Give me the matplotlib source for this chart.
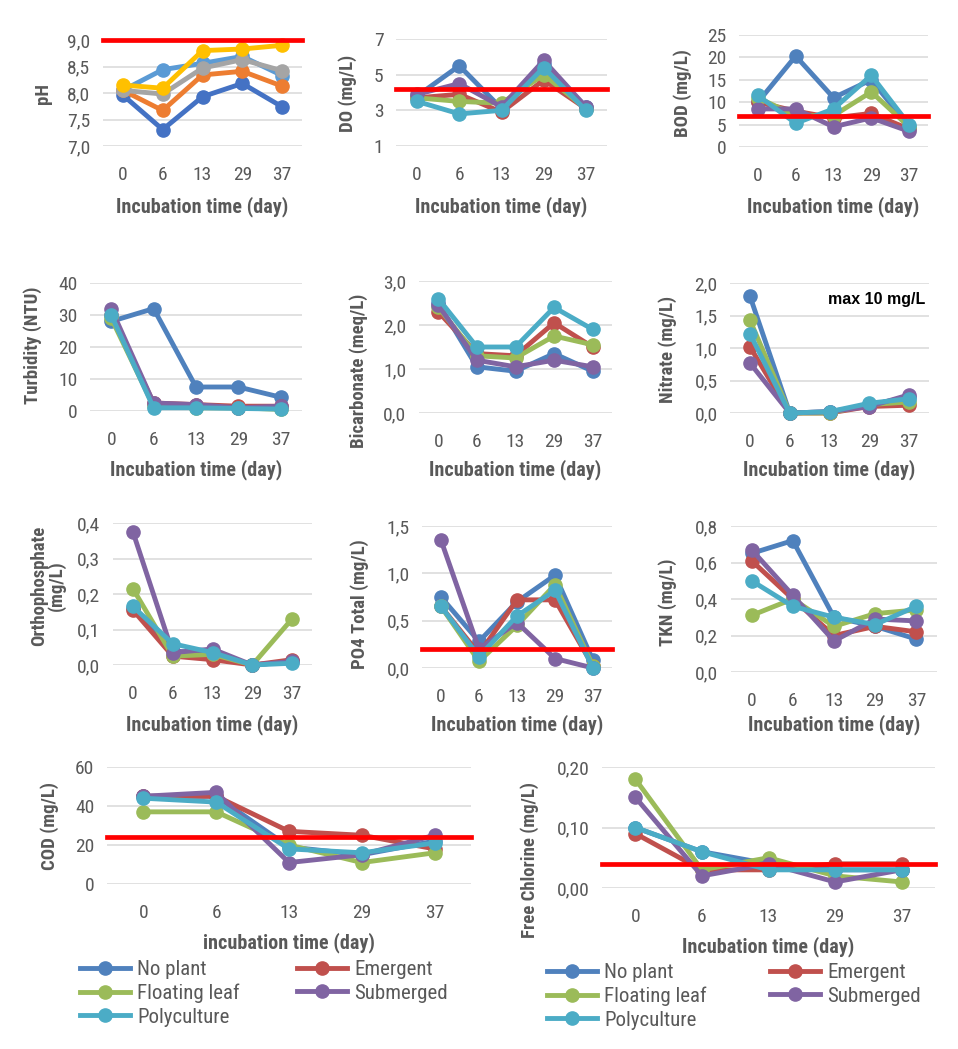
import matplotlib
matplotlib.use('Agg')
import matplotlib.pyplot as plt
from matplotlib import font_manager as fm
from matplotlib.ticker import FuncFormatter

# look for a narrow sans font (the original uses Arial Narrow)
installed = {(f.name, f.stretch) for f in fm.fontManager.ttflist}
names = {n for n, s in installed}
narrow = None
for pref in ['Liberation Sans Narrow', 'Arial Narrow', 'Roboto Condensed',
             'Open Sans Condensed', 'Noto Sans Condensed', 'DejaVu Sans Condensed']:
    if pref in names:
        narrow = (pref, 'normal')
        break
if narrow is None:
    for fam in ['Noto Sans', 'Open Sans', 'Roboto', 'DejaVu Sans']:
        for st in ['condensed', 'semi-condensed']:
            if (fam, st) in installed:
                narrow = (fam, st)
                break
        if narrow:
            break

if narrow:
    plt.rcParams['font.family'] = [narrow[0], 'DejaVu Sans']
    plt.rcParams['font.stretch'] = narrow[1]
    TICK_FS, YLAB_FS, XLAB_FS, LEG_FS = 14, 13.5, 14.5, 15
else:
    plt.rcParams['font.family'] = ['Liberation Sans', 'DejaVu Sans']
    TICK_FS, YLAB_FS, XLAB_FS, LEG_FS = 12.5, 12, 12.5, 13

W, H = 958, 1049

days = ['0', '6', '13', '29', '37']
groups = ['No plant', 'Emergent', 'Floating leaf', 'Submerged', 'Polyculture']
group_colors = ['#4F81BD', '#C0504D', '#9BBB59', '#8064A2', '#4BACC6']

# pH panel: five unnamed series, drawn in this order
ph_colors = ['#5B9BD5', '#4472C4', '#ED7D31', '#A5A5A5', '#FFC000']
ph_values = [
    [8.05, 8.44, 8.56, 8.69, 8.33],
    [7.96, 7.31, 7.93, 8.18, 7.74],
    [8.05, 7.67, 8.34, 8.41, 8.13],
    [8.05, 7.98, 8.47, 8.63, 8.42],
    [8.15, 8.09, 8.80, 8.83, 8.90],
]

# values per group: No plant, Emergent, Floating leaf, Submerged, Polyculture
do_values = [
    [3.8, 5.5, 3.1, 5.6, 3.2],
    [3.7, 3.9, 2.9, 4.7, 3.1],
    [3.7, 3.5, 3.4, 5.0, 3.1],
    [3.9, 4.5, 3.2, 5.8, 3.2],
    [3.5, 2.8, 3.0, 5.4, 3.0],
]
bod_values = [
    [10.0, 20.3, 11.0, 15.0, 4.5],
    [10.0, 8.0, 6.5, 7.5, 4.0],
    [11.0, 7.0, 7.0, 12.3, 4.5],
    [8.5, 8.5, 4.5, 6.5, 3.5],
    [11.5, 5.3, 8.5, 16.0, 5.0],
]
turb_values = [
    [28.0, 32.0, 7.5, 7.5, 4.3],
    [30.0, 2.5, 2.0, 1.5, 1.5],
    [29.0, 1.5, 1.0, 1.0, 0.5],
    [32.0, 2.5, 2.0, 1.0, 1.5],
    [30.0, 1.0, 1.0, 0.8, 0.6],
]
bicarb_values = [
    [2.50, 1.05, 0.95, 1.35, 0.95],
    [2.30, 1.35, 1.30, 2.05, 1.50],
    [2.40, 1.30, 1.25, 1.75, 1.55],
    [2.45, 1.20, 1.05, 1.20, 1.05],
    [2.60, 1.50, 1.50, 2.40, 1.90],
]
nitrate_values = [
    [1.80, 0.00, 0.02, 0.12, 0.25],
    [1.02, 0.00, 0.00, 0.10, 0.12],
    [1.43, 0.00, 0.00, 0.13, 0.17],
    [0.77, 0.00, 0.02, 0.10, 0.28],
    [1.22, 0.00, 0.02, 0.15, 0.22],
]
ortho_values = [
    [0.160, 0.040, 0.030, 0.000, 0.010],
    [0.155, 0.025, 0.015, 0.000, 0.015],
    [0.215, 0.025, 0.030, 0.000, 0.130],
    [0.375, 0.035, 0.045, 0.000, 0.010],
    [0.165, 0.060, 0.035, 0.000, 0.005],
]
po4_values = [
    [0.75, 0.28, 0.70, 0.98, 0.08],
    [0.65, 0.15, 0.72, 0.72, 0.02],
    [0.65, 0.07, 0.45, 0.88, 0.02],
    [1.35, 0.20, 0.48, 0.10, 0.00],
    [0.65, 0.12, 0.55, 0.82, 0.00],
]
tkn_values = [
    [0.65, 0.72, 0.30, 0.25, 0.18],
    [0.61, 0.40, 0.20, 0.25, 0.22],
    [0.31, 0.40, 0.25, 0.32, 0.34],
    [0.67, 0.42, 0.17, 0.29, 0.28],
    [0.50, 0.36, 0.30, 0.26, 0.36],
]
cod_values = [
    [45, 45, 19, 15, 22],
    [45, 45, 27, 25, 18],
    [37, 37, 20, 11, 16],
    [45, 47, 11, 15, 25],
    [44, 42, 18, 16, 21],
]
chlorine_values = [
    [0.10, 0.06, 0.04, 0.03, 0.03],
    [0.09, 0.03, 0.03, 0.04, 0.04],
    [0.18, 0.03, 0.05, 0.02, 0.01],
    [0.15, 0.02, 0.04, 0.01, 0.03],
    [0.10, 0.06, 0.03, 0.03, 0.03],
]

# standard limits (red lines)
ph_limit = 9.0
do_limit = 4.2
bod_limit = 7.0
po4_limit = 0.2
cod_limit = 24.0
chlorine_limit = 0.04

TXT = '#595959'

fig = plt.figure(figsize=(W / 100, H / 100), dpi=100)


def comma(dec):
    return FuncFormatter(lambda v, p: ('{:.%df}' % dec).format(v).replace('.', ','))


def panel(box, series, colors, ylim, yticks, dec, ylabel, ylab_xy, xlab_y,
          xlabel='Incubation time (day)', limit=None):
    x0, y0, x1, y1 = box
    ax = fig.add_axes([x0 / W, 1 - y1 / H, (x1 - x0) / W, (y1 - y0) / H])
    xs = range(len(days))
    for vals, c in zip(series, colors):
        ax.plot(xs, vals, color=c, lw=3.5, marker='o', ms=9.5, clip_on=False, zorder=3)
    if limit is not None:
        ax.axhline(limit, color='#FF0000', lw=3.4, zorder=4, clip_on=False)
    ax.set_xlim(-0.5, len(days) - 0.5)
    ax.set_ylim(*ylim)
    ax.set_yticks(yticks)
    ax.yaxis.set_major_formatter(comma(dec))
    ax.set_xticks(list(xs))
    ax.set_xticklabels(days)
    ax.grid(axis='y', color='#D9D9D9', lw=1.1)
    ax.set_axisbelow(True)
    for s in ax.spines.values():
        s.set_visible(False)
    ax.tick_params(length=0, labelsize=TICK_FS, labelcolor=TXT)
    ax.tick_params(axis='x', pad=14.5)
    ax.tick_params(axis='y', pad=9)
    ax.set_xlabel(xlabel, fontsize=XLAB_FS, fontweight='bold', color=TXT, va='center')
    ax.xaxis.set_label_coords(0.5, (y1 - xlab_y) / (y1 - y0))
    ax.set_ylabel(ylabel, fontsize=YLAB_FS, fontweight='bold', color=TXT, va='center',
                  linespacing=0.95)
    ax.yaxis.set_label_coords((ylab_xy[0] - x0) / (x1 - x0), (y1 - ylab_xy[1]) / (y1 - y0))
    return ax


panel((103, 40, 302, 146), ph_values, ph_colors, (7.0, 9.0), [7.0, 7.5, 8.0, 8.5, 9.0], 1,
      'pH', (43, 93), 207, limit=ph_limit)
panel((396, 39, 607, 146), do_values, group_colors, (1, 7), [1, 3, 5, 7], 0,
      'DO (mg/L)', (348, 93), 207, limit=do_limit)
panel((739, 35, 928, 147), bod_values, group_colors, (0, 25), [0, 5, 10, 15, 20, 25], 0,
      'BOD (mg/L)', (683, 93), 207, limit=bod_limit)

panel((90, 283, 302, 411), turb_values, group_colors, (0, 40), [0, 10, 20, 30, 40], 0,
      'Turbidity (NTU)', (33, 345), 470)
panel((419, 281, 612, 413), bicarb_values, group_colors, (0, 3), [0, 1, 2, 3], 1,
      'Bicarbonate (meq/L)', (359, 371), 470)
panel((730, 283, 929, 413), nitrate_values, group_colors, (0, 2), [0, 0.5, 1.0, 1.5, 2.0], 1,
      'Nitrate (mg/L)', (668, 349), 470)
fig.text(925 / W, 1 - 300 / H, 'max 10 mg/L', ha='right', va='center', fontsize=11.5,
         fontweight='bold', color='black', family=['Liberation Sans', 'DejaVu Sans'],
         stretch='normal')

panel((113, 523, 312, 665), ortho_values, group_colors, (0, 0.4), [0, 0.1, 0.2, 0.3, 0.4], 1,
      'Orthophosphate\n(mg/L)', (48, 586), 725)
panel((422, 526, 612, 668), po4_values, group_colors, (0, 1.5), [0, 0.5, 1.0, 1.5], 1,
      'PO4 Total (mg/L)', (360, 604), 725, limit=po4_limit)
panel((731, 526, 937, 672), tkn_values, group_colors, (0, 0.8), [0, 0.2, 0.4, 0.6, 0.8], 1,
      'TKN (mg/L)', (668, 602), 725)

ax_cod = panel((107, 767, 471, 884), cod_values, group_colors, (0, 60), [0, 20, 40, 60], 0,
               'COD (mg/L)', (50, 826), 943, xlabel='incubation time (day)', limit=cod_limit)
ax_cl = panel((602, 767, 935, 888), chlorine_values, group_colors, (0, 0.2), [0, 0.1, 0.2], 2,
              'Free Chlorine (mg/L)', (530, 860), 947, limit=chlorine_limit)

# legends below the two bottom charts (row-major order like Excel)
order = [0, 2, 4, 1, 3]
for ax, (lx, ly), cs in [(ax_cod, (80, 960), 2.75), (ax_cl, (547, 963), 3.05)]:
    hs = ax.get_lines()[:5]
    leg = fig.legend([hs[i] for i in order], [groups[i] for i in order],
                     loc='upper left', bbox_to_anchor=(lx / W, 1 - ly / H), ncol=2,
                     frameon=False, fontsize=LEG_FS, handlelength=2.4, handletextpad=0.35,
                     labelspacing=0.22, columnspacing=cs, borderpad=0, borderaxespad=0)
    for t in leg.get_texts():
        t.set_color(TXT)

fig.savefig('out.png', dpi=100)
